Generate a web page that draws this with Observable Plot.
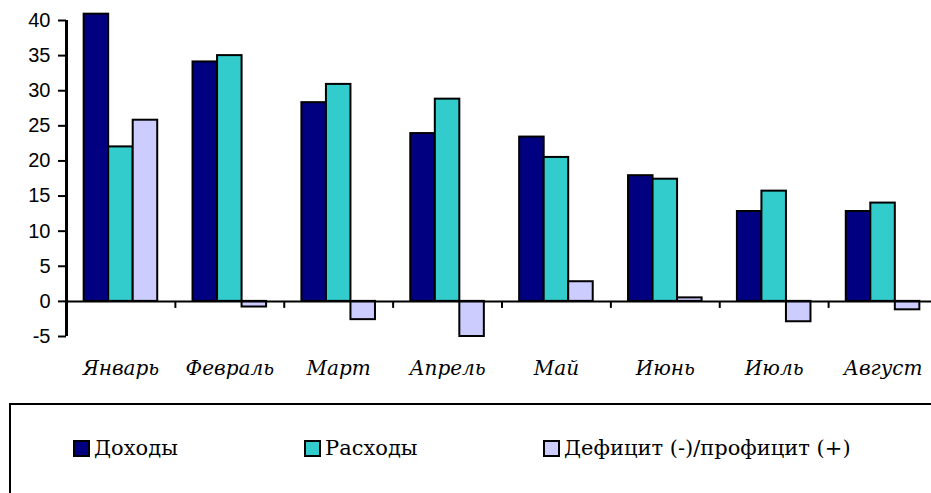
<!DOCTYPE html>
<html>
<head>
<meta charset="utf-8">
<script src="https://cdn.jsdelivr.net/npm/d3@7"></script>
<script src="https://cdn.jsdelivr.net/npm/@observablehq/plot@0.6"></script>
<style>
  html, body { margin: 0; padding: 0; background: #fff; overflow: hidden; width: 931px; height: 493px; }
  #wrap { position: relative; width: 931px; height: 493px; overflow: hidden; }
  #chart { position: absolute; left: 0; top: 0; width: 940px; }
  #chart svg { max-width: none !important; }
  #legend { position: absolute; left: 9px; top: 403px; width: 1000px; height: 200px; border: 2px solid #000; box-sizing: border-box; }
  .item { position: absolute; top: 31px; display: flex; align-items: center; font-family: "DejaVu Serif", serif; font-size: 21px; color: #000; white-space: nowrap; }
  .sw { width: 13px; height: 13px; border: 2px solid #000; margin-right: 4px; }
</style>
</head>
<body>
<div id="wrap">
  <div id="chart"></div>
  <div id="legend"></div>
</div>
<script>
const months = ["Январь","Февраль","Март","Апрель","Май","Июнь","Июль","Август"];
const series = ["Доходы","Расходы","Дефицит (-)/профицит (+)"];
const colors = ["#000080","#33CCCC","#CCCCFF"];
const income   = [40.9, 34.1, 28.3, 23.9, 23.4, 17.9, 12.8, 12.8];
const expenses = [22.0, 35.0, 30.9, 28.8, 20.5, 17.4, 15.7, 14.0];
const balance  = [25.8, -0.8, -2.6, -5.0, 2.8, 0.5, -2.9, -1.2];
const yTicks = [-5, 0, 5, 10, 15, 20, 25, 30, 35, 40];

const values = [income, expenses, balance];
const data = [];
months.forEach((m, i) => series.forEach((s, j) => data.push({month: m, series: s, value: values[j][i]})));

const W = 940, H = 395, mL = 66, mR = 3, mT = 20, mB = 59;
const padOuter = 0.72;
const facetW = (W - mL - mR) / months.length;
const step = facetW / (series.length + 2 * padOuter);
const edgeOffset = step * (0.5 + padOuter);
const firstBar = data.filter(d => d.series === series[0] && d.month === months[0]);
const lastBars = data.filter(d => d.series === series[2]);

const chart = Plot.plot({
  width: W, height: H,
  marginLeft: mL, marginRight: mR, marginTop: mT, marginBottom: mB,
  style: {background: "#fff", color: "#000", maxWidth: "none"},
  fx: {domain: months, padding: 0, round: false, label: null},
  x: {domain: series, paddingInner: 0, paddingOuter: padOuter, round: false, axis: null},
  y: {domain: [-5, 40]},
  color: {domain: series, range: colors},
  marks: [
    Plot.barY(data, {fx: "month", x: "series", y: "value", fill: "series", stroke: "#000", strokeWidth: 2}),
    Plot.ruleY([0], {stroke: "#000", strokeWidth: 2}),
    Plot.ruleX(lastBars, {fx: "month", x: "series", y1: 0, y2: -1, dx: edgeOffset, stroke: "#000", strokeWidth: 2}),
    Plot.ruleX(firstBar, {fx: "month", x: "series", y1: -5, y2: 40, dx: -edgeOffset, stroke: "#000", strokeWidth: 3}),
    Plot.axisY({ticks: yTicks, tickFormat: d => String(d), tickSize: 8, tickPadding: 8, strokeWidth: 2, fontSize: 20, fontFamily: "Liberation Sans, Arial, sans-serif", label: null}),
    Plot.axisFx({anchor: "bottom", tickSize: 0, tickPadding: 24, fontSize: 20, fontFamily: "DejaVu Serif, serif", fontStyle: "italic", label: null})
  ]
});
document.getElementById("chart").appendChild(chart);

const legend = document.getElementById("legend");
const legendX = [62, 293, 532];
series.forEach((s, i) => {
  const it = document.createElement("div");
  it.className = "item";
  it.style.left = legendX[i] + "px";
  const sw = document.createElement("span");
  sw.className = "sw";
  sw.style.background = colors[i];
  it.appendChild(sw);
  it.appendChild(document.createTextNode(s));
  legend.appendChild(it);
});
</script>
</body>
</html>
